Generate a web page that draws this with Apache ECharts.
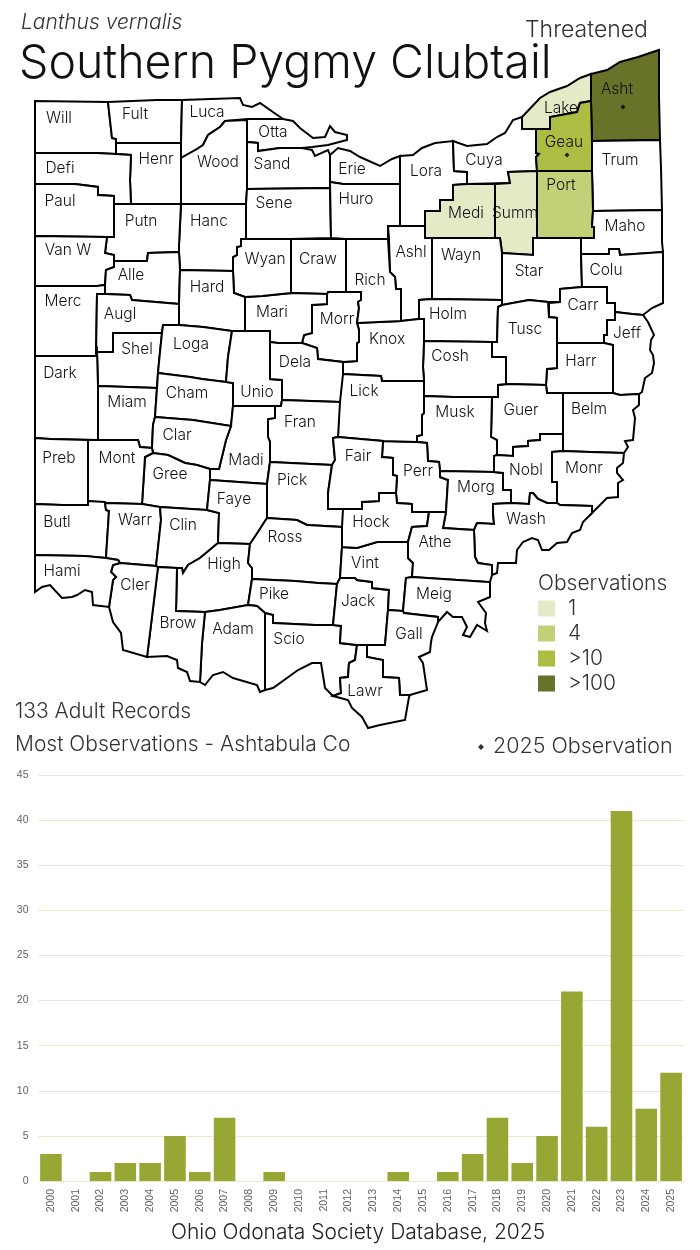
<!DOCTYPE html>
<html><head><meta charset="utf-8">
<style>html,body{margin:0;padding:0;background:#fff}#c{width:700px;height:1250px}</style>
<script src="https://cdn.jsdelivr.net/npm/echarts@6/dist/echarts.min.js"></script>
</head><body><div id="c"></div>
<script>
// ---- bar chart data
const years = ['2000','2001','2002','2003','2004','2005','2006','2007','2008','2009','2010','2011','2012','2013','2014','2015','2016','2017','2018','2019','2020','2021','2022','2023','2024','2025'];
const adultCounts = [3,0,1,2,2,5,1,7,0,1,0,0,0,0,1,0,1,3,7,2,5,21,6,41,8,12];
const yTicks = [0,5,10,15,20,25,30,35,40,45];
// ---- county observations
const obsCounties = ['Lake','Medi','Summ','Port','Geau','Asht'];
const obsValues = [1,1,1,4,14,112];
const obsLegend = ['1','4','>10','>100'];
const obsColors = ['#E4E9C6','#C3D077','#ADBC42','#697229'];
const observed2025 = [[623,107],[567,155]];
// ---- county outlines, map units
const countyShapes = {
'Will':'35,101 108,102 112,138 116,139 116,143 116,154 96,153 35,153',
'Fult':'108,102 157,100 182,100 181,143 116,143 116,139 112,138',
'Henr':'116,143 181,143 181,158 181,204 131,204 130,180 131,155 116,154',
'Defi':'35,153 96,153 116,154 131,155 130,180 131,204 114,204 114,196 98,195 98,187 75,184 35,184',
'Paul':'35,184 75,184 98,187 98,195 114,196 114,204 114,237 107,237 35,236',
'Luca':'182,100 240,98 243,105 252,107 260,103 270,110 283,119 248,119 247,120 225,121 220,127 208,135 203,145 197,149 181,158 181,143',
'Wood':'181,158 197,149 203,145 208,135 220,127 225,121 247,120 247,142 247,189 246,204 181,204',
'Otta':'248,119 283,119 293,121 300,128 313,138 325,137 330,126 335,132 347,135 347,140 328,145 312,147 302,148 280,148 258,151 258,143 247,142 247,120',
'Sand':'247,142 258,143 258,151 280,148 302,148 312,150 315,156 328,150 330,155 330,182 330,188 247,189',
'Erie':'330,155 338,148 350,151 360,157 380,166 392,159 400,156 400,184 343,184 330,182',
'Sene':'247,189 330,188 331,238 291,239 246,239 246,204',
'Huro':'330,182 343,184 400,184 400,226 388,226 388,239 346,239 331,238',
'Lora':'400,156 413,155 422,148 435,143 453,141 454,171 467,172 467,184 453,185 453,200 440,200 440,211 425,211 425,226 400,226',
'Cuya':'453,141 467,146 487,144 497,137 505,133 513,120 522,117 522,129 536,129 536,153 539,154 536,157 537,171 508,172 510,183 467,184 467,172 454,171',
'Lake':'522,117 540,98 550,92 567,86 580,78 591,74 591,101 580,103 577,112 550,117 550,129 536,129 522,129',
'Asht':'591,74 607,70 620,62 638,57 659,50 659,96 660,140 592,141 591,101',
'Geau':'591,101 592,141 592,171 537,171 536,157 539,154 536,153 536,129 550,129 550,117 577,112 580,103',
'Trum':'592,141 660,140 661,168 662,169 662,210 593,211 592,171',
'Port':'537,171 592,171 593,211 592,227 594,227 594,238 581,238 537,238',
'Summ':'508,172 537,171 537,238 533,238 533,255 502,253 500,238 495,238 495,184 510,183',
'Medi':'453,185 467,184 495,184 495,238 432,238 425,238 425,226 425,211 440,211 440,200 453,200',
'Wayn':'432,238 495,238 500,238 502,253 502,300 432,299',
'Ashl':'388,226 425,226 425,238 432,238 432,299 419,300 419,319 401,321 401,289 396,289 395,277 390,272 389,239 388,239',
'Holm':'419,300 432,299 502,300 502,305 498,307 497,342 492,342 424,341 424,319 419,319',
'Star':'502,253 533,255 533,238 581,238 581,254 582,287 560,289 560,302 548,302 529,300 502,305 502,300',
'Maho':'593,211 662,210 662,242 663,252 620,255 619,249 609,249 609,254 581,254 581,238 594,238 594,227 592,227',
'Colu':'581,254 609,254 609,249 619,249 620,255 663,252 663,303 652,308 643,315 632,314 615,312 615,303 607,303 607,287 582,287',
'Carr':'560,289 582,287 607,287 607,303 615,303 615,312 615,320 607,320 607,335 604,335 604,343 557,343 557,318 549,317 549,303 548,302 560,302',
'Jeff':'615,312 632,314 643,315 648,322 654,335 651,340 650,350 653,355 654,363 652,373 645,378 642,392 639,394 620,395 613,393 613,345 604,343 604,335 607,335 607,320 615,320',
'Harr':'557,343 604,343 613,345 613,393 563,393 547,393 546,385 547,369 557,368',
'Tusc':'498,307 502,305 529,300 548,302 549,303 549,317 557,318 557,343 557,368 547,369 546,385 506,384 498,385 506,384 506,357 492,357 492,342 497,342',
'Guer':'498,385 506,384 546,385 547,393 563,393 563,434 540,434 540,440 528,441 528,446 513,447 513,456 497,455 497,440 491,437 492,397 498,397',
'Cosh':'424,341 492,342 492,357 506,357 506,384 498,385 498,397 492,397 453,397 424,396 424,381 423,367',
'Musk':'424,396 453,397 492,397 491,437 497,440 497,455 494,456 494,472 440,471 439,462 428,461 427,443 417,442 417,436 422,435 422,415 424,413',
'Perr':'383,441 417,442 427,443 428,461 439,462 440,471 440,477 448,480 446,512 429,512 412,512 412,504 397,503 396,493 397,476 393,475 393,458 382,457',
'Knox':'357,323 401,321 419,319 424,319 424,341 423,367 424,381 382,381 381,376 343,374 343,362 357,361 357,343 359,342 359,330',
'Lick':'342,374 343,374 381,376 382,381 424,381 424,396 424,413 422,415 422,435 417,436 417,442 383,441 338,437 339,402 340,402',
'Morr':'328,292 346,292 361,292 361,300 358,302 359,308 357,323 359,330 359,342 357,343 357,361 343,362 318,359 317,348 302,343 304,335 312,333 312,305 327,304 327,294',
'Rich':'346,239 388,239 389,239 390,272 395,277 396,289 401,289 401,321 357,323 359,308 358,302 361,300 361,292 346,292',
'Craw':'291,239 346,239 346,292 328,292 327,294 291,293',
'Mari':'245,297 262,296 291,293 327,294 327,304 312,305 312,333 304,335 302,343 278,343 270,342 270,331 245,331',
'Wyan':'241,239 291,239 291,293 262,296 245,297 234,293 233,271 233,257 237,255 237,247 241,246',
'Hanc':'181,204 246,204 246,239 241,239 241,246 237,247 237,255 233,257 233,271 180,270 179,252 179,245',
'Putn':'114,204 131,204 181,204 179,245 179,252 148,253 147,261 114,261 114,255 105,253 107,237 114,237',
'Van W':'35,236 107,237 105,253 114,255 114,261 114,267 106,270 105,285 97,286 35,286',
'Alle':'114,261 147,261 148,253 179,252 180,270 179,304 132,300 130,295 105,294 105,285 106,270 114,267',
'Merc':'35,286 97,286 105,285 105,294 97,294 96,356 35,356',
'Augl':'97,294 105,294 130,295 132,300 179,304 179,325 163,325 162,333 113,333 113,352 97,352 96,356',
'Hard':'180,270 233,271 234,293 245,297 245,331 232,331 203,327 179,325 179,304',
'Shel':'113,333 162,333 160,352 158,373 157,388 128,387 98,386 97,352 113,352',
'Loga':'163,325 179,325 203,327 232,331 228,357 226,382 202,379 190,377 158,373 160,352 162,333',
'Dark':'35,356 96,356 97,352 98,386 98,440 50,439 35,438',
'Miam':'98,386 128,387 157,388 155,417 153,425 152,448 140,447 138,440 98,440',
'Cham':'158,373 190,377 202,379 226,382 233,383 233,406 231,426 193,420 155,417 157,388',
'Unio':'232,331 245,331 270,331 270,342 270,379 282,380 282,400 281,406 233,406 233,383 226,382 228,357',
'Dela':'270,342 278,343 302,343 317,348 318,359 343,362 343,374 342,374 340,402 282,400 282,380 270,379',
'Fran':'282,400 340,402 339,402 338,437 333,438 335,460 332,465 270,462 270,442 268,437 268,419 275,418 275,406 281,406',
'Madi':'233,406 275,406 275,418 268,419 268,437 270,442 270,462 267,484 210,480 210,469 219,469 226,440 231,426',
'Clar':'155,417 193,420 231,426 226,440 219,469 210,469 197,465 185,463 168,455 153,453 152,448 153,425',
'Gree':'145,457 153,453 168,455 185,463 197,465 210,469 210,480 207,510 160,507 142,504',
'Mont':'88,440 98,440 138,440 140,447 152,448 153,453 145,457 142,504 105,503 105,502 88,501',
'Preb':'35,438 50,439 88,440 88,501 88,505 62,505 35,504',
'Butl':'35,504 62,505 88,505 88,501 105,502 105,503 106,510 109,511 107,542 106,558 85,556 35,555',
'Warr':'105,503 142,504 160,507 161,520 157,557 156,566 120,563 118,560 106,558 107,542 109,511 106,510',
'Clin':'160,507 207,510 219,513 218,543 200,558 188,565 183,573 182,568 177,568 158,567 156,566 157,557 161,520',
'Faye':'210,480 267,484 267,518 258,532 250,544 218,543 219,513 207,510',
'High':'218,543 250,544 248,563 252,568 252,579 248,605 220,610 205,612 176,611 177,568 182,568 183,573 188,565 200,558',
'Pick':'270,462 332,465 328,493 328,509 343,509 343,527 342,527 307,525 297,520 267,518 267,484',
'Ross':'267,518 297,520 307,525 342,527 342,547 340,578 337,584 318,583 295,581 252,579 252,568 248,563 250,544 258,532',
'Pike':'252,579 295,581 318,583 337,584 333,625 315,625 273,623 273,615 265,613 257,606 248,605',
'Adam':'205,612 220,610 248,605 257,606 265,613 265,690 260,692 257,685 233,678 223,672 213,675 205,685 200,682 202,643',
'Brow':'158,567 177,568 176,611 205,612 202,643 200,682 190,681 187,672 178,668 177,660 167,656 147,657 150,633',
'Cler':'120,563 156,566 158,567 150,633 147,657 123,650 121,633 113,622 109,607 113,580 116,577 111,572 113,565',
'Hami':'35,555 85,556 106,558 118,560 120,563 113,565 111,572 116,577 113,580 109,607 93,605 92,592 85,590 77,595 72,597 62,598 50,585 42,587 35,592',
'Scio':'265,613 273,615 273,623 315,625 333,625 341,626 340,643 357,645 355,660 349,663 348,677 340,678 341,693 333,696 325,688 321,663 312,663 298,670 287,678 273,688 265,690',
'Jack':'340,578 355,578 357,580 372,582 372,588 389,590 388,610 385,645 367,645 357,645 340,643 341,626 333,625 337,584',
'Vint':'342,547 357,548 377,542 408,542 408,558 413,563 412,577 406,578 403,611 388,610 389,590 372,588 372,582 357,580 355,578 340,578',
'Hock':'343,509 362,509 362,502 379,501 379,493 396,493 397,503 412,504 412,512 429,512 427,526 412,527 408,542 377,542 357,548 342,547 342,527 343,527',
'Fair':'338,437 383,441 382,457 393,458 393,475 397,476 396,493 379,493 379,501 362,502 362,509 343,509 328,509 328,493 332,465 335,460 333,438',
'Morg':'440,471 494,472 503,473 503,490 511,490 511,503 493,504 493,513 494,524 477,523 474,530 443,528 446,512 448,480 440,477',
'Nobl':'494,456 497,455 513,456 513,447 528,446 528,441 540,440 540,434 563,434 563,451 552,452 552,482 557,482 557,503 547,503 538,499 533,493 530,493 529,504 511,503 511,490 503,490 503,473 494,472',
'Belm':'563,393 613,393 620,395 639,394 639,405 633,410 635,418 633,440 625,441 628,447 624,453 590,452 563,451 563,434',
'Monr':'552,452 563,451 590,452 624,453 623,463 617,468 617,473 623,480 618,483 618,497 607,498 592,513 592,506 560,505 557,503 557,482 552,482',
'Wash':'493,504 511,503 529,504 530,493 533,493 538,499 547,503 557,503 560,505 592,506 592,513 583,522 580,530 572,533 567,542 557,543 549,550 542,550 538,540 532,538 523,542 517,550 516,563 498,563 497,573 492,575 492,565 478,563 475,557 474,530 477,523 494,524 493,513',
'Athe':'446,512 429,512 427,526 412,527 408,542 408,558 413,563 412,577 488,582 490,582 492,575 492,565 478,563 475,557 474,530 443,528',
'Meig':'406,578 412,577 488,582 490,582 490,597 478,602 486,613 485,623 487,631 477,625 470,637 463,635 467,627 462,617 453,617 447,612 438,622 438,617 404,613 403,611',
'Gall':'388,610 403,611 404,613 438,617 438,622 432,637 431,642 430,652 419,657 423,663 427,690 410,695 400,695 399,678 383,677 383,660 367,657 367,645 385,645',
'Lawr':'357,645 355,660 349,663 348,677 340,678 341,693 333,696 348,700 352,708 362,717 368,728 380,725 405,720 409,697 410,695 400,695 399,678 383,677 383,660 367,657 367,645'
};
const countyLabels = {
'Will':[59,117],'Fult':[135,113],'Luca':[207,111],'Otta':[273,131],'Defi':[60,167],'Henr':[156,158],'Wood':[218,161],'Sand':[272,163],'Erie':[352,168],'Lora':[426,170],'Cuya':[484,159],'Lake':[561,107],'Asht':[617,88],'Geau':[564,141],'Trum':[620,159],'Paul':[60,200],'Putn':[141,220],'Hanc':[209,220],'Sene':[274,202],'Huro':[356,198],'Medi':[466,212],'Summ':[515,212],'Port':[561,184],'Maho':[625,225],'Van W':[68,249],'Alle':[131,274],'Hard':[207,286],'Wyan':[265,258],'Craw':[318,258],'Rich':[370,279],'Ashl':[411,251],'Wayn':[461,254],'Star':[529,270],'Colu':[606,269],'Merc':[63,300],'Augl':[120,313],'Mari':[272,311],'Morr':[337,318],'Holm':[448,313],'Carr':[583,304],'Jeff':[627,332],'Tusc':[525,328],'Shel':[137,348],'Loga':[191,343],'Dela':[295,361],'Knox':[387,338],'Cosh':[450,355],'Harr':[581,360],'Dark':[60,372],'Miam':[127,401],'Cham':[187,392],'Unio':[257,391],'Lick':[364,390],'Musk':[455,411],'Guer':[521,409],'Belm':[589,408],'Clar':[177,434],'Madi':[246,459],'Fran':[300,421],'Fair':[358,455],'Perr':[418,470],'Nobl':[526,469],'Monr':[584,467],'Preb':[59,457],'Mont':[117,457],'Gree':[170,473],'Faye':[234,498],'Pick':[292,479],'Morg':[476,486],'Wash':[526,518],'Butl':[57,521],'Warr':[135,519],'Clin':[183,524],'Ross':[285,536],'Hock':[371,521],'Athe':[435,541],'Hami':[62,570],'Cler':[135,584],'High':[224,563],'Pike':[274,593],'Vint':[365,562],'Meig':[434,593],'Jack':[358,600],'Brow':[178,622],'Adam':[233,628],'Scio':[289,638],'Gall':[409,633],'Lawr':[365,690]
};
const FONT = 'Inter';
const parseRing = s => s.split(' ').map(p => p.split(',').map(Number));
const features = Object.keys(countyShapes).map(name => {
  const ring = parseRing(countyShapes[name]);
  ring.push(ring[0]);
  return {type:'Feature',properties:{name,cp:countyLabels[name]},geometry:{type:'Polygon',coordinates:[ring]}};
});
const allPts = features.flatMap(f => f.geometry.coordinates[0]);
const minX = Math.min(...allPts.map(p=>p[0])), maxX = Math.max(...allPts.map(p=>p[0]));
const minY = Math.min(...allPts.map(p=>p[1])), maxY = Math.max(...allPts.map(p=>p[1]));
echarts.registerMap('ohio',{type:'FeatureCollection',features});
const chart = echarts.init(document.getElementById('c'),null,{renderer:'canvas',width:700,height:1250});
const txt = (text,left,top,size,color,extra) => ({text,left,top,padding:0,textStyle:Object.assign({fontFamily:FONT,fontSize:size,fontWeight:300,color},extra||{})});
chart.setOption({
  animation:false,
  backgroundColor:'#fff',
  title:[
    txt('Lanthus vernalis',21,12,21,'#333',{fontStyle:'italic'}),
    txt('Southern Pygmy Clubtail',19,41,46.5,'#111'),
    txt('Threatened',525,19,23,'#333'),
    txt('Observations',538,573,21,'#333'),
    txt('133 Adult Records',15,701,21,'#333'),
    txt('Most Observations - Ashtabula Co',15,734,21,'#333'),
    txt('Ohio Odonata Society Database, 2025',171,1222,21,'#222')
  ],
  geo:{
    map:'ohio',
    projection:{project:p=>[p[0],p[1]],unproject:p=>[p[0],p[1]]},
    left:minX,top:minY,width:maxX-minX,height:maxY-minY,
    silent:true,roam:false,
    itemStyle:{areaColor:'#fff',borderColor:'#000',borderWidth:2},
    label:{show:true,fontFamily:FONT,fontSize:15.5,fontWeight:300,color:'#111',offset:[0,1]},
    emphasis:{disabled:true}
  },
  visualMap:{
    type:'piecewise',seriesIndex:0,left:538,top:598,orient:'vertical',align:'left',inverse:true,padding:0,
    itemWidth:17,itemHeight:16,itemGap:4,itemSymbol:'rect',textGap:13,showLabel:true,
    selectedMode:false,
    textStyle:{fontFamily:FONT,fontSize:21,fontWeight:300,color:'#333'},
    pieces:[
      {min:1,max:1,label:obsLegend[0],color:obsColors[0]},
      {min:2,max:9,label:obsLegend[1],color:obsColors[1]},
      {min:10,max:99,label:obsLegend[2],color:obsColors[2]},
      {min:100,label:obsLegend[3],color:obsColors[3]}
    ]
  },
  legend:{
    data:[{name:'2025 Observation',icon:'diamond'}],left:478,top:736,itemWidth:6,itemHeight:6,itemGap:0,padding:0,
    selectedMode:false,
    textStyle:{fontFamily:FONT,fontSize:21.5,fontWeight:300,color:'#333',padding:[0,0,0,4]}
  },
  grid:{left:38.5,right:16.5,top:775,height:406},
  xAxis:{type:'category',data:years,
    axisLine:{lineStyle:{color:'#E6E9CF',width:1}},axisTick:{show:false},
    axisLabel:{interval:0,rotate:90,margin:8,fontFamily:'Liberation Sans',fontSize:10.5,color:'#5f5f6a'}},
  yAxis:{type:'value',min:yTicks[0],max:yTicks[yTicks.length-1],interval:yTicks[1]-yTicks[0],
    axisLine:{show:false},axisTick:{show:false},
    axisLabel:{margin:10,fontFamily:'Liberation Sans',fontSize:10.5,color:'#5f5f6a'},
    splitLine:{lineStyle:{width:1,color:['#E6E9CF','#E8EBC4','#E4E4E0','#E8EBC4','#E4E4E0','#E4E4E0','#E8EBC4','#E4E4E0','#E8EBC4','#E4E4E0']}}},
  series:[
    {type:'map',geoIndex:0,data:obsCounties.map((name,i)=>({name,value:obsValues[i]}))},
    {type:'scatter',name:'2025 Observation',coordinateSystem:'geo',geoIndex:0,symbol:'diamond',symbolSize:5,
      itemStyle:{color:'#000'},data:observed2025,z:5,silent:true},
    {type:'bar',data:adultCounts,barWidth:'87%',itemStyle:{color:'#98A733'},silent:true}
  ]
});
</script></body></html>
